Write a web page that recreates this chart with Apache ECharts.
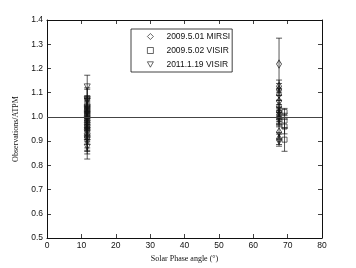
<!DOCTYPE html>
<html><head><meta charset="utf-8">
<script src="https://cdn.jsdelivr.net/npm/echarts@6/dist/echarts.min.js"></script>
<style>html,body{margin:0;padding:0;background:#fff}#c{width:356px;height:268px}</style>
</head><body><div id="c"></div>
<script>
// MIRSI 2009.5.01 (diamonds)
const mirsiX = [67.5,67.5,67.5,67.5,67.5,67.5,67.5,67.5,67.5,67.5,67.5,67.5,67.5,67.5];
const mirsiY = [1.218,1.127,1.113,1.093,1.065,1.044,1.021,1.010,1.003,0.996,0.989,0.938,0.911,0.904];
const mirsiErr = [0.107,0.025,0.025,0.025,0.025,0.025,0.03,0.03,0.03,0.03,0.03,0.03,0.025,0.025];
// VISIR 2009.5.02 (squares)
const visir09X = [69.1,69.1,69.1,69.1];
const visir09Y = [1.02,0.985,0.96,0.906];
const visir09Err = [0.015,0.03,0.03,0.048];
// VISIR 2011.1.19 (triangles)
const visir11X = [11.7,11.7,11.7,11.7,11.7,11.7,11.7,11.7,11.7,11.7,11.7,11.7,11.7,11.7,11.7,11.7,11.7,11.7,11.7,11.7,11.7,11.7,11.7,11.7,11.7];
const visir11Y = [1.124,1.072,1.066,1.04,1.035,1.03,1.025,1.02,1.015,1.01,1.005,1.0,0.995,0.99,0.985,0.975,0.965,0.955,0.945,0.935,0.92,0.91,0.905,0.895,0.875];
const visir11Err = [0.048,0.048,0.048,0.048,0.048,0.048,0.048,0.048,0.048,0.048,0.048,0.048,0.048,0.048,0.048,0.048,0.048,0.048,0.048,0.048,0.048,0.048,0.048,0.048,0.049];
const seriesNames = ['2009.5.01 MIRSI','2009.5.02 VISIR','2011.1.19 VISIR'];
const refLine = 1.0;

const zip = (xs, ys, es) => xs.map((x,i)=>es ? [x, ys[i], es[i]] : [x, ys[i]]);

function errRender(params, api){
  const x = api.value(0), y = api.value(1), e = api.value(2);
  const t = api.coord([x, y+e]), b = api.coord([x, y-e]);
  const hw = 3, st = {stroke:'#111', lineWidth:0.7};
  return {type:'group', children:[
    {type:'line', shape:{x1:t[0],y1:t[1],x2:b[0],y2:b[1]}, style:st},
    {type:'line', shape:{x1:t[0]-hw,y1:t[1],x2:t[0]+hw,y2:t[1]}, style:st},
    {type:'line', shape:{x1:b[0]-hw,y1:b[1],x2:b[0]+hw,y2:b[1]}, style:st}
  ]};
}

const sansFont = 'Liberation Sans';
const serifFont = 'Liberation Serif';
const axisLine = {show:true, onZero:false, lineStyle:{color:'#111', width:1}};
const tick = {show:true, inside:true, length:4, lineStyle:{color:'#111', width:0.8}};
const triDown = 'path://M0,0 L10,0 L5,9 Z';
const legendIconStyle = {color:'transparent', borderColor:'#111', borderWidth:0.8};

const chart = echarts.init(document.getElementById('c'), null, {renderer:'canvas'});
const mk = {color:'transparent', borderColor:'#111', borderWidth:0.8};
chart.setOption({
  animation:false,
  backgroundColor:'#fff',
  grid:{left:47, right:34, top:20, bottom:30},
  legend:{
    data:[
      {name:seriesNames[0], icon:'diamond', itemStyle:legendIconStyle},
      {name:seriesNames[1], icon:'rect', itemStyle:legendIconStyle},
      {name:seriesNames[2], icon:triDown, itemStyle:legendIconStyle}
    ],
    orient:'vertical', left:131, top:29,
    padding:[3,2,3,16], itemWidth:6, itemHeight:6, itemGap:5,
    borderColor:'#111', borderWidth:0.8, backgroundColor:'#fff',
    textStyle:{fontFamily:sansFont, fontSize:8.5, color:'#111', lineHeight:8, padding:[0,0,0,8]},
    selectedMode:false
  },
  xAxis:[
    {type:'value', min:0, max:80, interval:10, position:'bottom',
     name:'Solar Phase angle (°)', nameLocation:'middle', nameGap:10,
     nameTextStyle:{fontFamily:serifFont, fontSize:8, color:'#111'},
     axisLine, axisTick:tick, splitLine:{show:false},
     axisLabel:{fontFamily:sansFont, fontSize:8.5, color:'#111', margin:3}},
    {type:'value', min:0, max:80, interval:10, position:'top',
     axisLine, axisTick:tick, splitLine:{show:false}, axisLabel:{show:false}}
  ],
  yAxis:[
    {type:'value', min:0.5, max:1.4, interval:0.1, position:'left',
     name:'Observations/ATPM', nameLocation:'middle', nameGap:20,
     nameTextStyle:{fontFamily:serifFont, fontSize:8, color:'#111'},
     axisLine, axisTick:tick, splitLine:{show:false},
     axisLabel:{fontFamily:sansFont, fontSize:8.5, color:'#111', margin:4, formatter:v=>v.toFixed(1)}},
    {type:'value', min:0.5, max:1.4, interval:0.1, position:'right',
     axisLine, axisTick:tick, splitLine:{show:false}, axisLabel:{show:false}}
  ],
  series:[
    {type:'custom', renderItem:errRender, data:zip(mirsiX,mirsiY,mirsiErr), silent:true, z:1,
     markLine:{silent:true, symbol:'none', label:{show:false}, lineStyle:{color:'#444', width:1, type:'solid'}, data:[{yAxis:refLine}]}},
    {type:'custom', renderItem:errRender, data:zip(visir09X,visir09Y,visir09Err), silent:true, z:1},
    {type:'custom', renderItem:errRender, data:zip(visir11X,visir11Y,visir11Err), silent:true, z:1},
    {name:seriesNames[0], type:'scatter', symbol:'diamond', symbolSize:[5,8], itemStyle:mk, data:zip(mirsiX,mirsiY), z:2},
    {name:seriesNames[1], type:'scatter', symbol:'rect', symbolSize:5, itemStyle:mk, data:zip(visir09X,visir09Y), z:2},
    {name:seriesNames[2], type:'scatter', symbol:triDown, symbolSize:[6,6], itemStyle:mk, data:zip(visir11X,visir11Y), z:2}
  ]
});
</script></body></html>
